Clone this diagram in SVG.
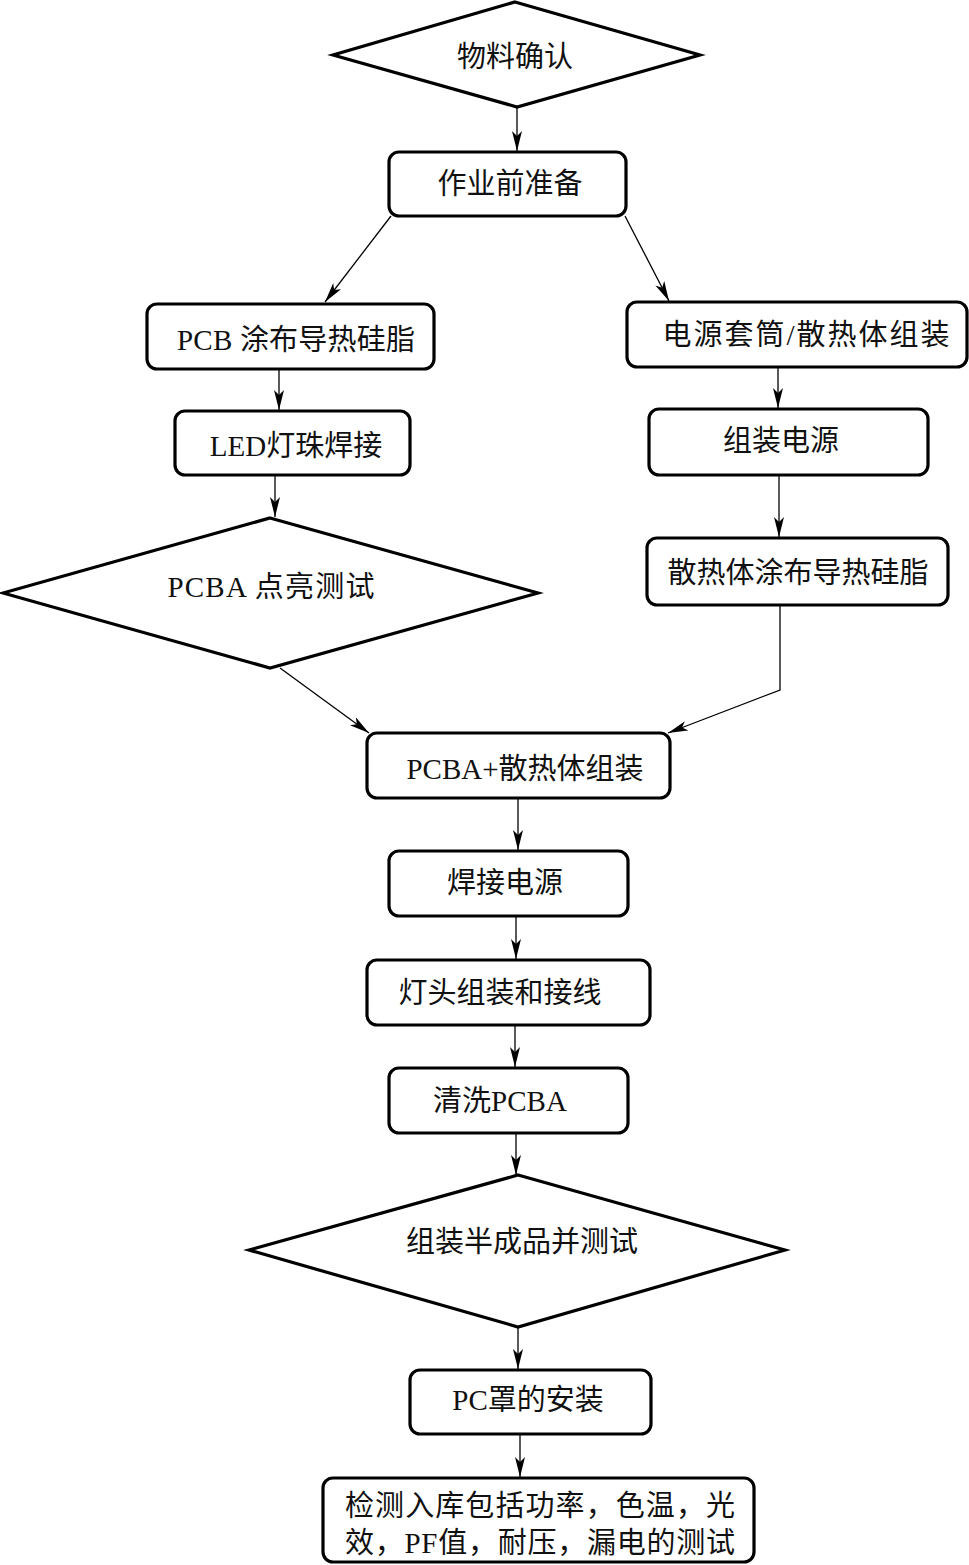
<svg xmlns="http://www.w3.org/2000/svg" width="969" height="1565" viewBox="0 0 969 1565">
<style>
.n{fill:#fff;stroke:#000;stroke-width:3.2}
.c{fill:none;stroke:#000;stroke-width:1.3}
text{font-family:"Liberation Serif","Noto Sans CJK SC",serif;font-size:29px;fill:#111;text-anchor:middle;dominant-baseline:central}
</style>
<defs>
<marker id="a" viewBox="0 0 20 10" refX="20" refY="5" markerWidth="20" markerHeight="10" markerUnits="userSpaceOnUse" orient="auto">
<path d="M0,0 L20,5 L0,10 L5,5 Z" fill="#000"/>
</marker>
</defs>
<g id="connectors">
<path class="c" d="M517,108 V151" marker-end="url(#a)"/>
<path class="c" d="M391,216 L325,302" marker-end="url(#a)"/>
<path class="c" d="M625,216 L669,301" marker-end="url(#a)"/>
<path class="c" d="M279,369 V410" marker-end="url(#a)"/>
<path class="c" d="M275,475 V517" marker-end="url(#a)"/>
<path class="c" d="M778,367 V408" marker-end="url(#a)"/>
<path class="c" d="M779,475 V537" marker-end="url(#a)"/>
<path class="c" d="M780,605 V690 L668,733" marker-end="url(#a)"/>
<path class="c" d="M280,668 L369,733" marker-end="url(#a)"/>
<path class="c" d="M518,798 V850" marker-end="url(#a)"/>
<path class="c" d="M516,916 V959" marker-end="url(#a)"/>
<path class="c" d="M515,1025 V1067" marker-end="url(#a)"/>
<path class="c" d="M516,1133 V1175" marker-end="url(#a)"/>
<path class="c" d="M518,1327 V1369" marker-end="url(#a)"/>
<path class="c" d="M520,1434 V1477" marker-end="url(#a)"/>
</g>
<g id="n1"><path class="n" d="M515,2 L700,55 L517,107 L333,55 Z"/><text x="515" y="57">物料确认</text></g>
<g id="n2"><rect class="n" x="389" y="152" width="237" height="64" rx="10"/><text x="510" y="184">作业前准备</text></g>
<g id="n3"><rect class="n" x="147" y="304" width="287" height="65" rx="10"/><text x="296" y="340" textLength="238">PCB 涂布导热硅脂</text></g>
<g id="n4"><rect class="n" x="175" y="411" width="235" height="64" rx="10"/><text x="296" y="446">LED灯珠焊接</text></g>
<g id="n5"><path class="n" d="M270,518 L538,593 L270,668 L3,593 Z"/><text x="271" y="587" textLength="207">PCBA  点亮测试</text></g>
<g id="n6"><rect class="n" x="627" y="302" width="340" height="65" rx="10"/><text x="806" y="335" textLength="287">电源套筒/散热体组装</text></g>
<g id="n7"><rect class="n" x="649" y="409" width="279" height="66" rx="10"/><text x="781" y="441">组装电源</text></g>
<g id="n8"><rect class="n" x="647" y="538" width="301" height="67" rx="10"/><text x="798" y="573">散热体涂布导热硅脂</text></g>
<g id="n9"><rect class="n" x="367" y="733" width="303" height="65" rx="10"/><text x="525" y="769">PCBA+散热体组装</text></g>
<g id="n10"><rect class="n" x="389" y="851" width="239" height="65" rx="10"/><text x="505" y="883">焊接电源</text></g>
<g id="n11"><rect class="n" x="367" y="960" width="283" height="65" rx="10"/><text x="500" y="993">灯头组装和接线</text></g>
<g id="n12"><rect class="n" x="389" y="1068" width="239" height="65" rx="10"/><text x="500" y="1101">清洗PCBA</text></g>
<g id="n13"><path class="n" d="M518,1175 L785,1250 L518,1327 L249,1250 Z"/><text x="522" y="1242">组装半成品并测试</text></g>
<g id="n14"><rect class="n" x="410" y="1370" width="241" height="64" rx="10"/><text x="528" y="1400">PC罩的安装</text></g>
<g id="n15"><rect class="n" x="323" y="1478" width="431" height="84" rx="10"/>
<text x="540" y="1506" textLength="390">检测入库包括功率，色温，光</text>
<text x="540" y="1543" textLength="390">效，PF值，耐压，漏电的测试</text></g>
</svg>
